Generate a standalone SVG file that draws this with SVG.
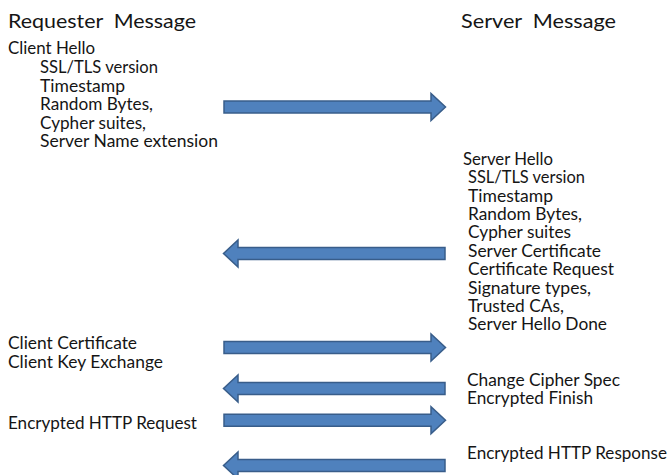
<svg xmlns="http://www.w3.org/2000/svg" xmlns:xlink="http://www.w3.org/1999/xlink" width="669" height="475" viewBox="0 0 669 475">
<style>
text { font-family: Lato, "Open Sans", "Liberation Sans", sans-serif; fill: #151515; }
.h { font-size: 20px; word-spacing: 5px; }
.b { font-size: 16.5px; }
.arrow { fill: #4F81BD; stroke: #385D8A; stroke-width: 1.5; stroke-linejoin: miter; }
</style>
<defs>
<path id="arrow-right" class="arrow" d="M224 -6 H431 V-13.5 L445.5 0 L431 13.5 V6 H224 Z"/>
<path id="arrow-left" class="arrow" d="M445 -6 H238 V-13.5 L223.5 0 L238 13.5 V6 H445 Z"/>
</defs>
<g id="header-requester">
<text class="h" x="8" y="28" textLength="188" lengthAdjust="spacingAndGlyphs">Requester Message</text>
</g>
<g id="header-server">
<text class="h" x="461" y="28" textLength="155" lengthAdjust="spacingAndGlyphs">Server Message</text>
</g>
<g id="client-hello">
<text class="b" x="8" y="54" textLength="87" lengthAdjust="spacingAndGlyphs">Client Hello</text>
<text class="b" x="40" y="73" textLength="118" lengthAdjust="spacingAndGlyphs">SSL/TLS version</text>
<text class="b" x="40" y="91.5" textLength="85" lengthAdjust="spacingAndGlyphs">Timestamp</text>
<text class="b" x="40" y="110" textLength="113" lengthAdjust="spacingAndGlyphs">Random Bytes,</text>
<text class="b" x="40" y="128.5" textLength="106" lengthAdjust="spacingAndGlyphs">Cypher suites,</text>
<text class="b" x="40" y="147" textLength="178" lengthAdjust="spacingAndGlyphs">Server Name extension</text>
</g>
<g id="server-hello">
<text class="b" x="463" y="165" textLength="90" lengthAdjust="spacingAndGlyphs">Server Hello</text>
<text class="b" x="468" y="183.4" textLength="117" lengthAdjust="spacingAndGlyphs">SSL/TLS version</text>
<text class="b" x="468" y="201.7" textLength="85" lengthAdjust="spacingAndGlyphs">Timestamp</text>
<text class="b" x="468" y="220" textLength="114" lengthAdjust="spacingAndGlyphs">Random Bytes,</text>
<text class="b" x="468" y="238.4" textLength="103" lengthAdjust="spacingAndGlyphs">Cypher suites</text>
<text class="b" x="468" y="256.8" textLength="133" lengthAdjust="spacingAndGlyphs">Server Certificate</text>
<text class="b" x="468" y="275.1" textLength="146" lengthAdjust="spacingAndGlyphs">Certificate Request</text>
<text class="b" x="468" y="293.5" textLength="123" lengthAdjust="spacingAndGlyphs">Signature types,</text>
<text class="b" x="468" y="311.8" textLength="96" lengthAdjust="spacingAndGlyphs">Trusted CAs,</text>
<text class="b" x="468" y="330.2" textLength="139" lengthAdjust="spacingAndGlyphs">Server Hello Done</text>
</g>
<g id="client-key-exchange">
<text class="b" x="8" y="349" textLength="129" lengthAdjust="spacingAndGlyphs">Client Certificate</text>
<text class="b" x="8" y="367.5" textLength="155" lengthAdjust="spacingAndGlyphs">Client Key Exchange</text>
</g>
<g id="change-cipher-spec">
<text class="b" x="467" y="385.5" textLength="153" lengthAdjust="spacingAndGlyphs">Change Cipher Spec</text>
<text class="b" x="467" y="404" textLength="126" lengthAdjust="spacingAndGlyphs">Encrypted Finish</text>
</g>
<g id="http-request">
<text class="b" x="8" y="429" textLength="189" lengthAdjust="spacingAndGlyphs">Encrypted HTTP Request</text>
</g>
<g id="http-response">
<text class="b" x="467" y="459" textLength="200" lengthAdjust="spacingAndGlyphs">Encrypted HTTP Response</text>
</g>
<g id="connectors">
<use xlink:href="#arrow-right" href="#arrow-right" y="107"/>
<use xlink:href="#arrow-left" href="#arrow-left" y="253.5"/>
<use xlink:href="#arrow-right" href="#arrow-right" y="347.5"/>
<use xlink:href="#arrow-left" href="#arrow-left" y="388.5"/>
<use xlink:href="#arrow-right" href="#arrow-right" y="420.3"/>
<use xlink:href="#arrow-left" href="#arrow-left" y="465.5"/>
</g>
</svg>
